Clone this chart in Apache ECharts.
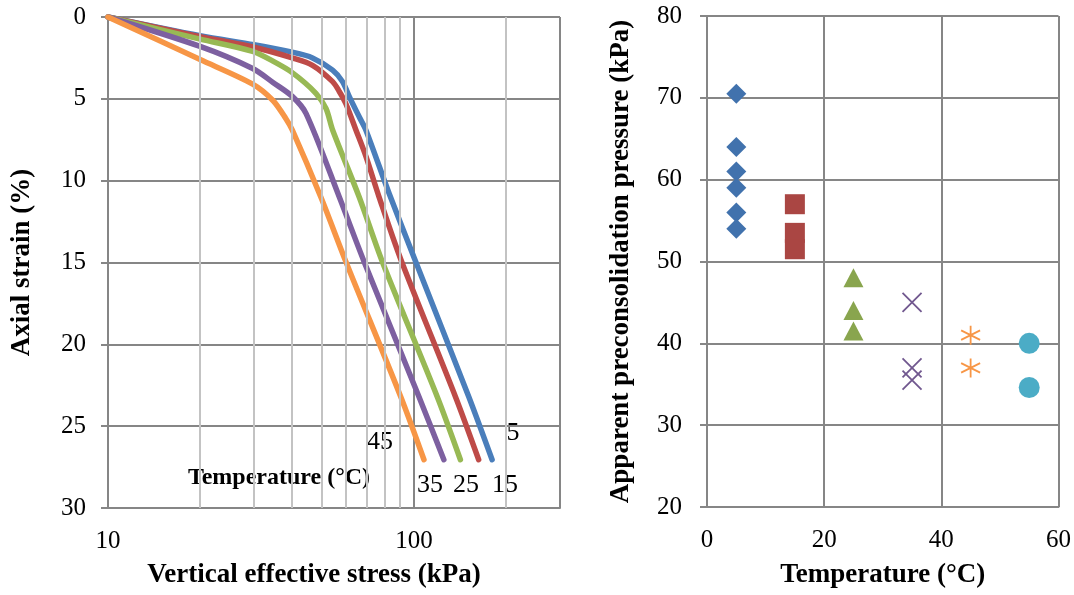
<!DOCTYPE html>
<html>

<head>
  <meta charset="utf-8" />
  <title>Compression curves and apparent preconsolidation pressure</title>
  <script src="https://cdn.jsdelivr.net/npm/echarts@6/dist/echarts.min.js"></script>
</head>

<body style="margin:0">
  <div id="main" style="width:1074px;height:595px;"></div>
  <script type="text/javascript">

    // Left chart: vertical effective stress (kPa) vs axial strain (%), one curve per temperature
    let stress5 = [10, 20, 30, 40, 46.6, 54.2, 58.4, 61.4, 66.2, 69.6, 83, 101, 151, 180];
    let strain5 = [0, 1.15, 1.7, 2.15, 2.5, 3.25, 3.95, 4.85, 6.1, 6.9, 10.8, 14.9, 23.2, 27.05];
    let stress15 = [10, 20, 30, 40, 46.6, 54.2, 57, 59.9, 64.6, 69.6, 76.9, 90.5, 136.6, 162.7];
    let strain15 = [0, 1.2, 1.85, 2.5, 2.95, 3.95, 4.55, 5.3, 6.9, 8.5, 11.0, 14.8, 23.2, 27.05];
    let stress25 = [10, 20, 29.7, 34.6, 40, 47.8, 51.6, 54.2, 66.2, 78.8, 119.1, 141.8];
    let strain25 = [0, 1.35, 2.1, 2.7, 3.4, 4.66, 5.6, 6.9, 11.0, 14.95, 23.2, 27.05];
    let stress35 = [10, 20, 29.7, 34.6, 40, 44.4, 57, 68.7, 103.8, 125.2];
    let strain35 = [0, 1.8, 3.15, 4.0, 4.85, 5.9, 11.0, 14.95, 23.2, 27.05];
    let stress45 = [10, 20, 29.7, 34.6, 38.1, 40, 49.6, 59.9, 90.5, 107.8];
    let strain45 = [0, 2.6, 4.1, 5.1, 6.2, 6.9, 11.0, 14.95, 23.2, 27.05];

    // minor log gridlines of the stress axis
    let minorStress = [20, 30, 40, 50, 60, 70, 80, 90, 200];

    // Right chart: apparent preconsolidation pressure (kPa) per temperature (°C)
    let pressure5 = [70.5, 64, 61, 59, 56, 54];
    let pressure15 = [57, 53.5, 51.5];
    let pressure25 = [48, 44, 41.5];
    let pressure35 = [45, 37, 35.5];
    let pressure45 = [41, 37];
    let pressure55 = [40, 34.6];

    function zip(xs, ys) {
      return xs.map(function (x, i) { return [x, ys[i]]; });
    }
    function atTemp(t, ps) {
      return ps.map(function (p) { return [t, p]; });
    }

    var font = 'Liberation Serif';
    var major = '#868686';

    function curve(name, color, xs, ys) {
      return {
        name: name,
        type: 'line',
        xAxisIndex: 0,
        yAxisIndex: 0,
        data: zip(xs, ys),
        smooth: 0.3,
        showSymbol: false,
        z: 3,
        lineStyle: { color: color, width: 5.5, cap: 'round', join: 'round' }
      };
    }

    function marks(name, symbol, size, color, data, stroke) {
      var s = {
        name: name,
        type: 'scatter',
        xAxisIndex: 1,
        yAxisIndex: 1,
        symbol: symbol,
        symbolSize: size,
        data: data,
        itemStyle: { color: color, opacity: 1 }
      };
      if (stroke) {
        s.itemStyle = { color: color, borderColor: color, borderWidth: 1.8, opacity: 1 };
      }
      return s;
    }

    var chart = echarts.init(document.getElementById('main'));

    var titleStyle = { fontFamily: font, fontSize: 27, fontWeight: 'bold', color: '#000' };
    var labelStyle = { fontFamily: font, fontSize: 25, color: '#000' };
    var numFont = '26px "Liberation Serif"';

    var option = {
      animation: false,
      textStyle: { fontFamily: font, color: '#000' },
      grid: [
        { left: 108, top: 17, width: 452, height: 491 },
        { left: 707, top: 16, width: 353, height: 491 }
      ],
      xAxis: [
        {
          gridIndex: 0,
          type: 'log',
          logBase: 10,
          min: 10,
          max: 300,
          name: 'Vertical effective stress (kPa)',
          nameLocation: 'middle',
          nameGap: 54,
          nameTextStyle: Object.assign({ padding: [0, 40, 0, 0] }, titleStyle),
          axisLine: { onZero: false, lineStyle: { color: major, width: 2 } },
          axisTick: { show: false },
          axisLabel: Object.assign({
            margin: 21,
            formatter: function (v) {
              var r = Math.round(v);
              return (Math.abs(v - r) < 1e-6 && (r === 10 || r === 100)) ? String(r) : '';
            }
          }, labelStyle),
          splitLine: { show: true, lineStyle: { color: major, width: 2 } }
        },
        {
          gridIndex: 1,
          type: 'value',
          min: 0,
          max: 60,
          interval: 20,
          name: 'Temperature (°C)',
          nameLocation: 'middle',
          nameGap: 55,
          nameTextStyle: titleStyle,
          axisLine: { lineStyle: { color: major, width: 2 } },
          axisTick: { show: false },
          axisLabel: Object.assign({ margin: 21 }, labelStyle),
          splitLine: { show: true, lineStyle: { color: major, width: 2 } }
        }
      ],
      yAxis: [
        {
          gridIndex: 0,
          type: 'value',
          inverse: true,
          min: 0,
          max: 30,
          interval: 5,
          name: 'Axial strain (%)',
          nameLocation: 'middle',
          nameGap: 72,
          nameTextStyle: titleStyle,
          axisLine: { show: true, lineStyle: { color: major, width: 2 } },
          axisTick: { show: true, length: 7, lineStyle: { color: major, width: 2 } },
          axisLabel: Object.assign({ margin: 22 }, labelStyle),
          splitLine: { show: true, lineStyle: { color: major, width: 2 } }
        },
        {
          gridIndex: 1,
          type: 'value',
          min: 20,
          max: 80,
          interval: 10,
          name: 'Apparent preconsolidation pressure (kPa)',
          nameLocation: 'middle',
          nameGap: 72,
          nameTextStyle: titleStyle,
          axisLine: { show: true, lineStyle: { color: major, width: 2 } },
          axisTick: { show: true, length: 7, lineStyle: { color: major, width: 2 } },
          axisLabel: Object.assign({ margin: 25 }, labelStyle),
          splitLine: { show: true, lineStyle: { color: major, width: 2 } }
        }
      ],
      graphic: [
        { type: 'text', x: 279, y: 478, style: { text: 'Temperature (°C)', font: 'bold 24px "Liberation Serif"', fill: '#000', align: 'center', verticalAlign: 'middle' } },
        { type: 'text', x: 513, y: 433, style: { text: '5', font: numFont, fill: '#000', align: 'center', verticalAlign: 'middle' } },
        { type: 'text', x: 380, y: 442, style: { text: '45', font: numFont, fill: '#000', align: 'center', verticalAlign: 'middle' } },
        { type: 'text', x: 430, y: 485, style: { text: '35', font: numFont, fill: '#000', align: 'center', verticalAlign: 'middle' } },
        { type: 'text', x: 466, y: 485, style: { text: '25', font: numFont, fill: '#000', align: 'center', verticalAlign: 'middle' } },
        { type: 'text', x: 505, y: 485, style: { text: '15', font: numFont, fill: '#000', align: 'center', verticalAlign: 'middle' } }
      ],
      series: [
        {
          // minor gridlines of the log axis
          type: 'line',
          xAxisIndex: 0,
          yAxisIndex: 0,
          data: [],
          z: 1,
          markLine: {
            silent: true,
            symbol: 'none',
            label: { show: false },
            lineStyle: { color: '#c3c3c3', width: 2, type: 'solid' },
            data: minorStress.map(function (v) { return { xAxis: v }; })
          }
        },
        curve('5', '#4a7ebb', stress5, strain5),
        curve('15', '#be4b48', stress15, strain15),
        curve('25', '#98b954', stress25, strain25),
        curve('35', '#7d60a0', stress35, strain35),
        curve('45', '#f79646', stress45, strain45),

        marks('5', 'diamond', 20, '#4172ad', atTemp(5, pressure5)),
        marks('15', 'rect', 20, '#aa4643', atTemp(15, pressure15)),
        marks('25', 'triangle', [20, 19], '#89a54e', atTemp(25, pressure25)),
        marks('35', 'path://M0,0L10,10M10,0L0,10', 19, '#71588f', atTemp(35, pressure35), true),
        marks('45', 'path://M5,0L5,10M0.7,2.5L9.3,7.5M0.7,7.5L9.3,2.5', 19, '#f79646', atTemp(45, pressure45), true),
        marks('55', 'circle', 21, '#4bacc6', atTemp(55, pressure55))
      ]
    };

    chart.setOption(option);
  </script>
</body>

</html>
